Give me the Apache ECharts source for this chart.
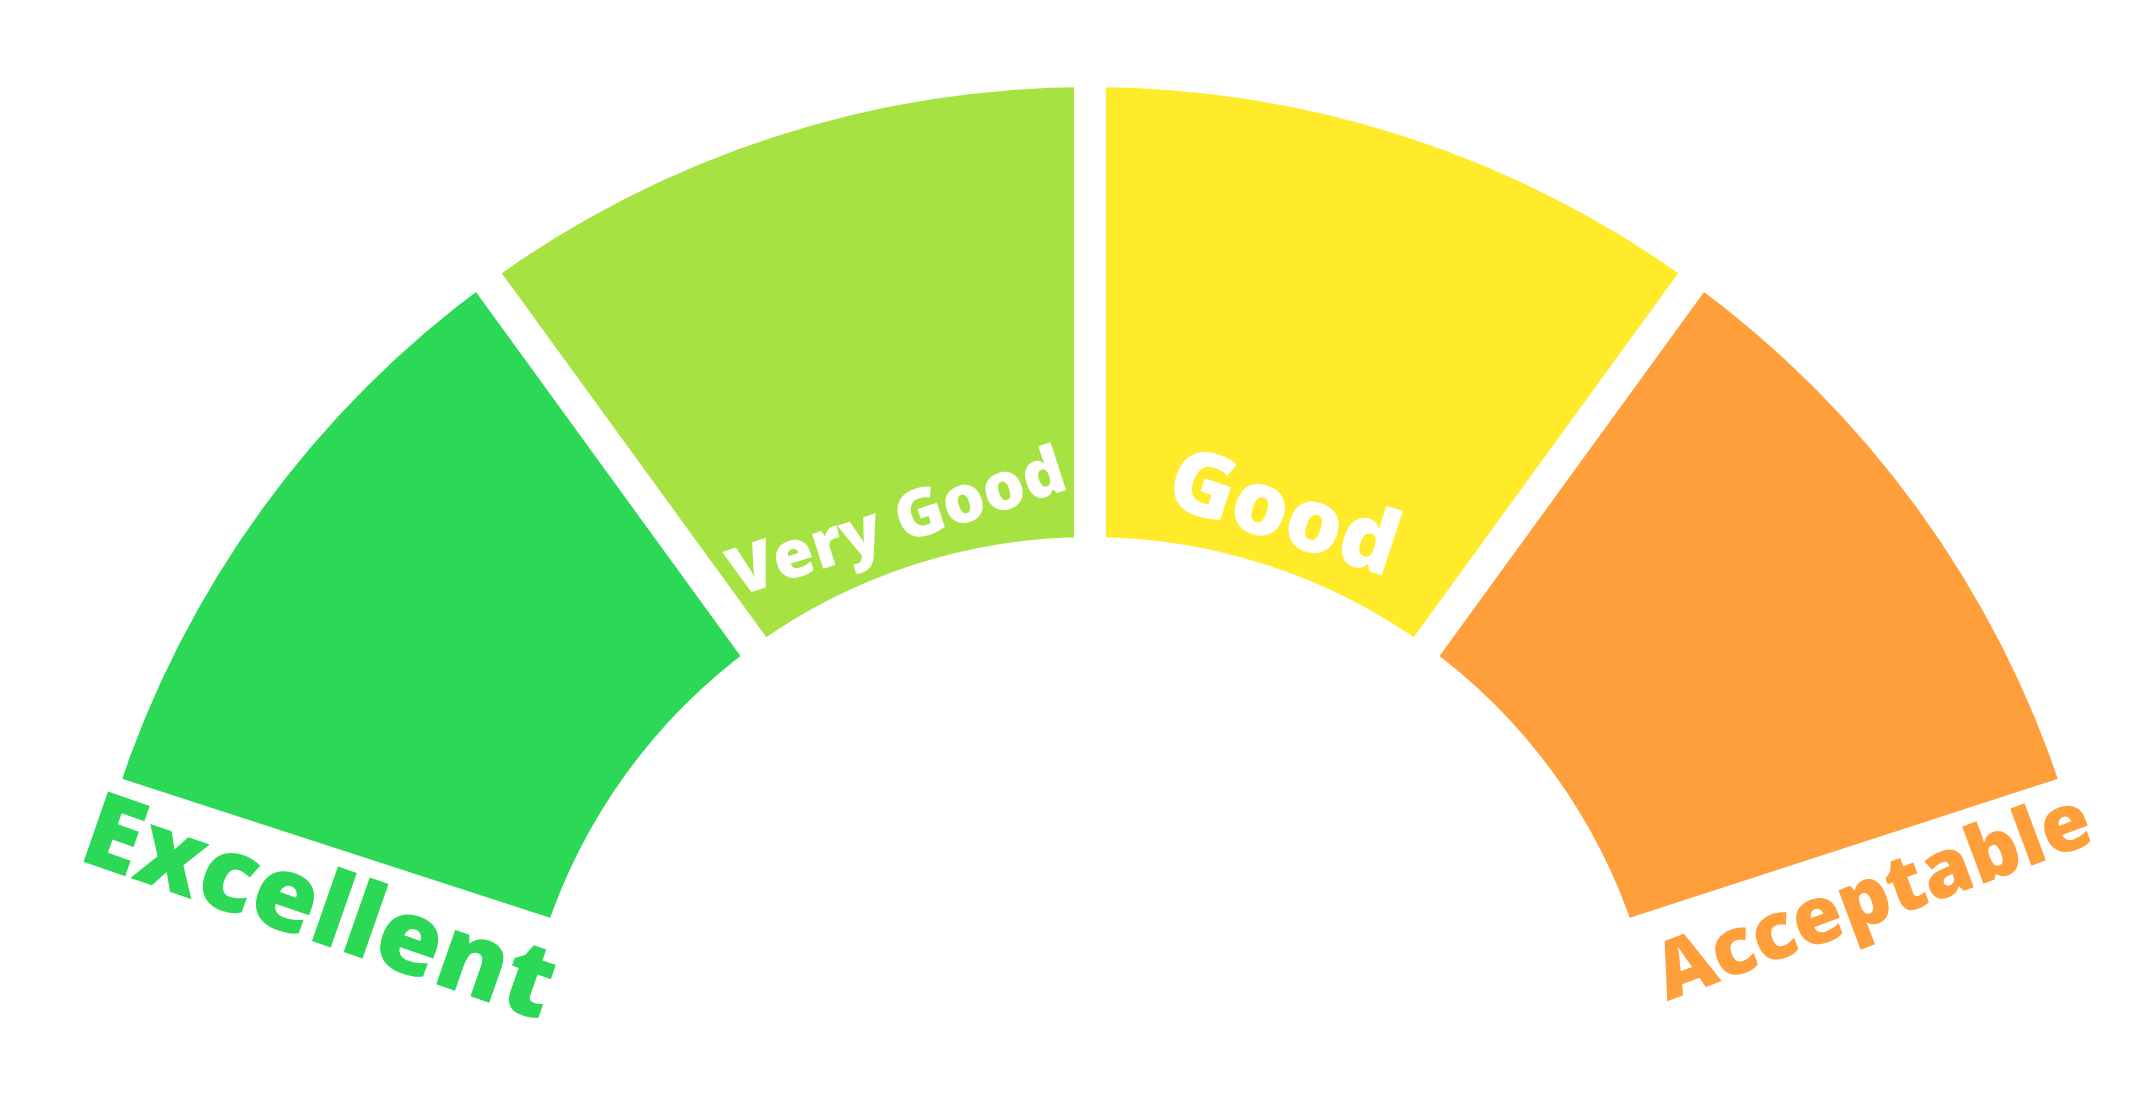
<!DOCTYPE html>
<html>
<head>
<meta charset="utf-8">
<style>
html,body{margin:0;padding:0;background:#fff;}
#chart{width:2139px;height:1103px;}
</style>
<script src="https://cdn.jsdelivr.net/npm/echarts@6/dist/echarts.min.js"></script>
</head>
<body>
<div id="chart"></div>
<script>
// ---- data ----
const categories = ['Excellent', 'Very Good', 'Good', 'Acceptable'];
const values = [1, 1, 1, 1];
const colors = ['#2CD956', '#A5E242', '#FFEB2A', '#FF9F3B'];

// ---- layout / style constants ----
const CX = 1090, CY = 1110;
const R_IN = 573, R_OUT = 1023;
const START = 162, END = 18;
const GAP = 32;
const FONT = '"Open Sans", "Noto Sans", sans-serif';
// label placement: polar angle (deg), radius, text rotation (deg), font size, colour
const labelStyle = [
  { ang: 165.6, r: 797, rot: -19.2, size: 104, color: colors[0] },
  { ang: 108.2, r: 616, rot: 18,    size: 66,  color: '#ffffff' },
  { ang: 72.0,  r: 624, rot: -18,   size: 89,  color: '#ffffff' },
  { ang: 15.0,  r: 812, rot: 20.4,  size: 80,  color: colors[3] }
];

function polar(r, deg) {
  const a = deg * Math.PI / 180;
  return [CX + r * Math.cos(a), CY - r * Math.sin(a)];
}

const chart = echarts.init(document.getElementById('chart'), null, { renderer: 'canvas' });

// white separators along the slice boundaries (derived from the values)
const total = values.reduce((a, b) => a + b, 0);
const boundaries = [START];
let cum = 0;
values.forEach(v => { cum += v; boundaries.push(START - (START - END) * cum / total); });
const gapLines = boundaries.map(deg => {
  const p1 = polar(R_IN - 30, deg), p2 = polar(R_OUT + 30, deg);
  return {
    type: 'line', silent: true, z: 50,
    shape: { x1: p1[0], y1: p1[1], x2: p2[0], y2: p2[1] },
    style: { stroke: '#ffffff', lineWidth: GAP }
  };
});

const labels = categories.map((name, i) => {
  const s = labelStyle[i];
  const p = polar(s.r, s.ang);
  return {
    type: 'text', x: p[0], y: p[1],
    rotation: s.rot * Math.PI / 180,
    silent: true, z: 100,
    style: {
      text: name, fill: s.color, fontSize: s.size, fontWeight: 800,
      fontFamily: FONT, align: 'center', verticalAlign: 'middle'
    }
  };
});

chart.setOption({
  animation: false,
  backgroundColor: '#ffffff',
  graphic: gapLines.concat(labels),
  series: [{
    type: 'pie',
    center: [CX, CY],
    radius: [R_IN, R_OUT],
    startAngle: START,
    endAngle: END,
    clockwise: true,
    silent: true,
    label: { show: false },
    labelLine: { show: false },
    itemStyle: { borderWidth: 0 },
    data: categories.map((name, i) => ({
      name: name, value: values[i], itemStyle: { color: colors[i] }
    }))
  }]
});
</script>
</body>
</html>
